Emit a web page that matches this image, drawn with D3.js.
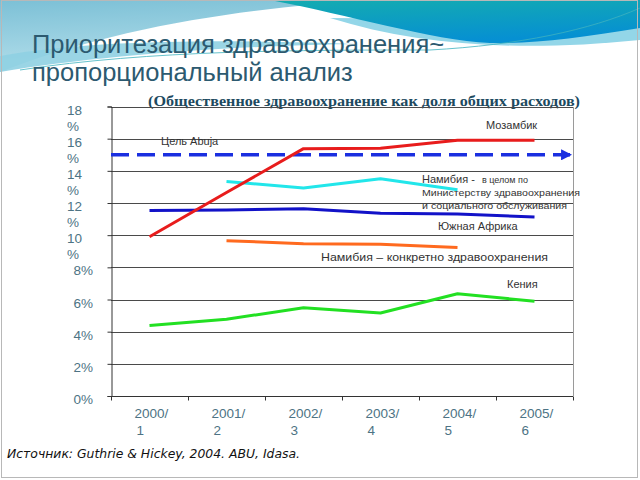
<!DOCTYPE html>
<html><head><meta charset="utf-8">
<script src="https://cdn.jsdelivr.net/npm/d3@7/dist/d3.min.js"></script>
<style>
html,body{margin:0;padding:0;background:#fff;}
svg{display:block;}
</style></head>
<body>
<svg id="c" width="640" height="480"></svg>
<script>
const categories = ["2000/1","2001/2","2002/3","2003/4","2004/5","2005/6"];
const mozambique   = [9.9, 12.65, 15.38, 15.4, 15.9, 15.9];
const namibiaTotal = [null, 13.34, 12.93, 13.51, 12.83, null];
const southAfrica  = [11.54, 11.56, 11.65, 11.37, 11.32, 11.13];
const namibiaHealth= [null, 9.66, 9.47, 9.43, 9.24, null];
const kenya        = [4.39, 4.77, 5.49, 5.16, 6.36, 5.89];
const abujaTarget  = 15;
const yTicks = [0,2,4,6,8,10,12,14,16,18];
const yTickLabels = ["0%","2%","4%","6%","8%","10%","12%","14%","16%","18%"];

const svg = d3.select("#c");

// background decoration
const defs = svg.append("defs");
const g1 = defs.append("linearGradient").attr("id","lb").attr("x1",0).attr("y1",0).attr("x2",0.2).attr("y2",1);
g1.append("stop").attr("offset","0").attr("stop-color","#7cc0d6");
g1.append("stop").attr("offset","1").attr("stop-color","#b4dfeb");
const g2 = defs.append("linearGradient").attr("id","tb").attr("x1",0).attr("y1",0).attr("x2",0.3).attr("y2",1);
g2.append("stop").attr("offset","0").attr("stop-color","#14acb0");
g2.append("stop").attr("offset","1").attr("stop-color","#0690d2");
defs.append("marker").attr("id","arr").attr("viewBox","0 0 10 10").attr("refX",8).attr("refY",5)
  .attr("markerWidth",3.2).attr("markerHeight",3.2).attr("orient","auto")
  .append("path").attr("d","M0,0 L10,5 L0,10 Z").attr("fill","#1a2fe0");

svg.append("path").attr("d","M0,0 L370,0 C250,8 120,25 0,72 Z").attr("fill","url(#lb)");
svg.append("path").attr("d","M0,56 C100,38 250,40 360,44 C250,45 100,55 0,72 Z").attr("fill","#8fd0e2").attr("opacity",0.9);
svg.append("path").attr("d","M330,18 C420,46 520,52 640,40 L640,20 Z").attr("fill","#93d6e8");
svg.append("path").attr("d","M270,0 L640,0 L640,28 C580,38 530,44 490,43 C430,40 350,15 270,0 Z").attr("fill","url(#tb)");
svg.append("path").attr("d","M20,70 C150,50 300,50 430,50 C520,45 590,30 640,8").attr("fill","none").attr("stroke","#3fb2bf").attr("stroke-width",0.8);
svg.append("rect").attr("x",1.5).attr("y",0.5).attr("width",636).attr("height",477).attr("fill","none").attr("stroke","#b8b8b8").attr("stroke-width",1);

// title
const title = svg.append("text").attr("font-family","Liberation Sans, Arial, sans-serif").attr("font-size",25.5).attr("fill","#2c5a70");
title.append("tspan").attr("x",32).attr("y",53).text("Приоритезация здравоохранения~");
title.append("tspan").attr("x",32).attr("y",81).text("пропорциональный анализ");

svg.append("text").attr("x",148).attr("y",106).attr("font-family","Liberation Serif, Times New Roman, serif")
  .attr("font-size",15).attr("font-weight","bold").attr("fill","#1d4a60")
  .attr("textLength",432).attr("lengthAdjust","spacingAndGlyphs")
  .text("(Общественное здравоохранение как доля общих расходов)");

// scales
const x = d3.scaleBand().domain(categories).range([111,573]).padding(0);
const xc = d => x(d) + x.bandwidth()/2;
const y = d3.scaleLinear().domain([0,18]).range([396,106.5]);

const plot = svg.append("g");
// gridlines
plot.selectAll("line.grid").data(yTicks.filter(v=>v>0)).join("line")
  .attr("x1",111).attr("x2",573).attr("y1",d=>Math.round(y(d))+0.5).attr("y2",d=>Math.round(y(d))+0.5)
  .attr("stroke","#4a4a4a").attr("stroke-width",1);
// right border
plot.append("line").attr("x1",573.5).attr("x2",573.5).attr("y1",Math.round(y(18))).attr("y2",396).attr("stroke","#9a9a9a");

// y axis
const yAxis = plot.append("g").attr("transform","translate(111.5,0)")
  .call(d3.axisLeft(y).tickValues(yTicks).tickSize(4).tickFormat(""));
yAxis.select(".domain").attr("stroke","#333");
yAxis.selectAll(".tick line").attr("stroke","#333");

// y labels
const ylab = svg.append("g").attr("font-family","Liberation Sans, Arial, sans-serif").attr("font-size",13.5).attr("fill","#4d7384");
yTicks.forEach((v,i)=>{
  const lab = yTickLabels[i];
  if (lab.length > 2) {
    const t = ylab.append("text").attr("x",67).attr("y",y(v)+8);
    t.append("tspan").attr("x",67).text(lab.slice(0,-1));
    t.append("tspan").attr("x",67).attr("dy",16).text("%");
  } else {
    ylab.append("text").attr("x",93).attr("y",y(v)+8).attr("text-anchor","end").text(lab);
  }
});

// x axis
const xAxis = plot.append("g").attr("transform","translate(0,396.5)");
xAxis.append("line").attr("x1",111).attr("x2",573).attr("stroke","#333");
const bounds = categories.map(c=>x(c)).concat([x.range()[1]]);
xAxis.selectAll("line.t").data(bounds).join("line").attr("x1",d=>Math.round(d)+0.5).attr("x2",d=>Math.round(d)+0.5)
  .attr("y1",0).attr("y2",4).attr("stroke","#333");
const xl = svg.append("g").attr("font-family","Liberation Sans, Arial, sans-serif").attr("font-size",13.5).attr("fill","#4d7384");
categories.forEach(c=>{
  const parts = c.split("/");
  const t = xl.append("text").attr("x",xc(c)-15).attr("y",418);
  t.append("tspan").attr("x",xc(c)-15).text(parts[0]+"/");
  t.append("tspan").attr("x",xc(c)-13).attr("dy",17).text(parts[1]);
});

// target line
plot.append("line").attr("x1",111).attr("x2",570).attr("y1",y(abujaTarget)).attr("y2",y(abujaTarget))
  .attr("stroke","#1a2fe0").attr("stroke-width",3.5).attr("stroke-dasharray","18,8")
  .attr("marker-end","url(#arr)");

// series lines
const line = d3.line().defined(d=>d.v!=null).x(d=>xc(d.c)).y(d=>y(d.v));
const series = [
  {vals: namibiaHealth, color:"#ff6a1f"},
  {vals: kenya, color:"#22e022"},
  {vals: southAfrica, color:"#1212c8"},
  {vals: namibiaTotal, color:"#22e6ea"},
  {vals: mozambique, color:"#e81c1c"}
];
series.forEach(s=>{
  plot.append("path").datum(categories.map((c,i)=>({c, v:s.vals[i]})))
    .attr("d", line).attr("fill","none").attr("stroke",s.color).attr("stroke-width",3).attr("stroke-linejoin","round");
});

// annotations
const ann = svg.append("g").attr("font-family","Liberation Sans, Arial, sans-serif").attr("fill","#333");
ann.append("text").attr("x",486).attr("y",129).attr("font-size",11).text("Мозамбик");
ann.append("text").attr("x",161).attr("y",145).attr("font-size",11).text("Цель Abuja");
const nt = ann.append("text").attr("x",422).attr("y",183);
nt.append("tspan").attr("font-size",11).text("Намибия - ");
nt.append("tspan").attr("font-size",9).attr("dx",4).text("в целом по");
ann.append("text").attr("x",422).attr("y",196).attr("font-size",9.5).attr("textLength",158).attr("lengthAdjust","spacingAndGlyphs").text("Министерству здравоохранения");
ann.append("text").attr("x",422).attr("y",209).attr("font-size",9.5).attr("textLength",145).attr("lengthAdjust","spacingAndGlyphs").text("и социального обслуживания");
ann.append("text").attr("x",438).attr("y",230).attr("font-size",11).text("Южная Африка");
ann.append("text").attr("x",321).attr("y",261).attr("font-size",11).attr("textLength",227).attr("lengthAdjust","spacingAndGlyphs").text("Намибия – конкретно здравоохранения");
ann.append("text").attr("x",507).attr("y",288).attr("font-size",11).text("Кения");

// source
svg.append("text").attr("x",7).attr("y",458).attr("font-family","DejaVu Sans, Verdana, sans-serif").attr("font-style","italic")
  .attr("font-size",12).attr("fill","#111").attr("textLength",293).attr("lengthAdjust","spacingAndGlyphs")
  .text("Источник: Guthrie & Hickey, 2004. ABU, Idasa.");
</script>
</body></html>
